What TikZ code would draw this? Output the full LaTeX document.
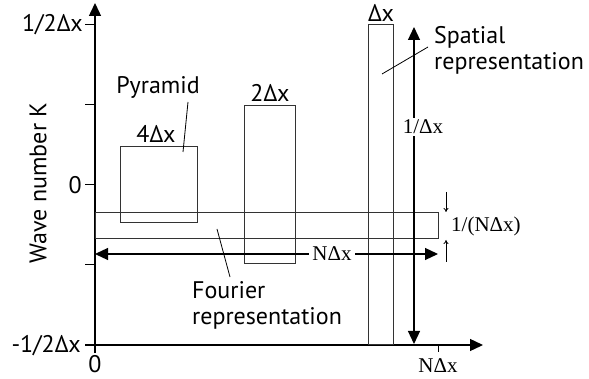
\documentclass[tikz,border=0pt]{standalone}
\usepackage{fontspec}
\setmainfont{PT Sans}
\newfontfamily\serifl{Liberation Serif}
\usetikzlibrary{arrows.meta}
\begin{document}
\begin{tikzpicture}[x=1pt,y=-1pt,
  axisline/.style={line width=1.4pt},
  bigtip/.style={-{Triangle[length=13pt,width=12pt]}},
  boxline/.style={line width=1pt, draw=black!80},
  lbl/.style={inner sep=0pt, font=\fontsize{24}{26}\selectfont},
  slbl/.style={inner sep=0pt, font=\serifl\fontsize{21}{24}\selectfont},
  leader/.style={line width=0.8pt},
  smallarr/.style={line width=0.8pt, -{To[length=4pt,width=5pt]}}]
\useasboundingbox (0,0) rectangle (589,379);
% axes
\coordinate (yb) at (95,353);
\coordinate (yt) at (95,3);
\coordinate (xl) at (85,345);
\coordinate (xr) at (483,345);
\draw[axisline,bigtip] (yb) -- (yt);
\draw[axisline,bigtip] (xl) -- (xr);
% ticks
\foreach \y/\n in {25/t1,105/t2,185/t3,265/t4}{
  \coordinate (\n a) at (85,\y); \coordinate (\n b) at (95,\y);
  \draw[line width=1pt] (\n a) -- (\n b);}
\coordinate (nxa) at (438,345); \coordinate (nxb) at (438,352);
\draw[line width=1pt] (nxa) -- (nxb);
% tick labels
\node[lbl,anchor=east] (l1) at (83,25) {1/2Δx};
\node[lbl,anchor=east] (l0) at (82,185) {0};
\node[lbl,anchor=east] (lm) at (81,346) {-1/2Δx};
\node[lbl,anchor=base] (x0) at (95,372) {0};
\node[slbl,anchor=base] (xn) at (438,372) {NΔx};
\node[lbl,rotate=90] (wk) at (38,183) {Wave number K};
% boxes
\draw[boxline] (120,147) rectangle (197,223);
\draw[boxline] (244,106) rectangle (295,264);
\draw[boxline] (368,25) rectangle (393,344);
\draw[boxline] (95,213) rectangle (438,239);
% box labels
\node[lbl] (b4) at (156,134) {4Δx};
\node[lbl] (b2) at (270,93) {2Δx};
\node[lbl] (b1) at (381,13) {Δx};
% Pyramid
\node[lbl] (pyr) at (158,87) {Pyramid};
\coordinate (pa) at (188,102); \coordinate (pb) at (183,152);
\draw[leader] (pa) -- (pb);
% Spatial representation
\node[lbl,anchor=west,align=left] (spa) at (434,50) {Spatial\\representation};
\coordinate (sa) at (428,47); \coordinate (sb) at (382,74);
\draw[leader] (sa) -- (sb);
% Fourier representation
\node[lbl,anchor=west,align=left] (fou) at (192,305) {Fourier\\representation};
\coordinate (fa) at (217,229); \coordinate (fb) at (230,277);
\draw[leader] (fa) -- (fb);
% 1/Delta x arrow
\coordinate (va) at (414,27); \coordinate (vb) at (414,344);
\draw[line width=1.2pt,{Triangle[length=13pt,width=12pt]}-{Triangle[length=13pt,width=12pt]}] (va) -- (vb);
\node[slbl,fill=white,inner sep=2pt] (ldx) at (423,127) {1/Δx};
% N Delta x arrow
\coordinate (ha) at (95,254); \coordinate (hb) at (438,254);
\draw[line width=1.2pt,{Triangle[length=13pt,width=12pt]}-{Triangle[length=13pt,width=12pt]}] (ha) -- (hb);
\node[slbl,fill=white,inner sep=3pt] (lnx) at (332,254) {NΔx};
% 1/(N Delta x)
\coordinate (da) at (446,192); \coordinate (db) at (446,212);
\coordinate (ua) at (446,262); \coordinate (ub) at (446,240);
\draw[smallarr] (da) -- (db);
\draw[smallarr] (ua) -- (ub);
\node[slbl,anchor=west] (lnn) at (451,226) {1/(NΔx)};
\end{tikzpicture}
\end{document}
